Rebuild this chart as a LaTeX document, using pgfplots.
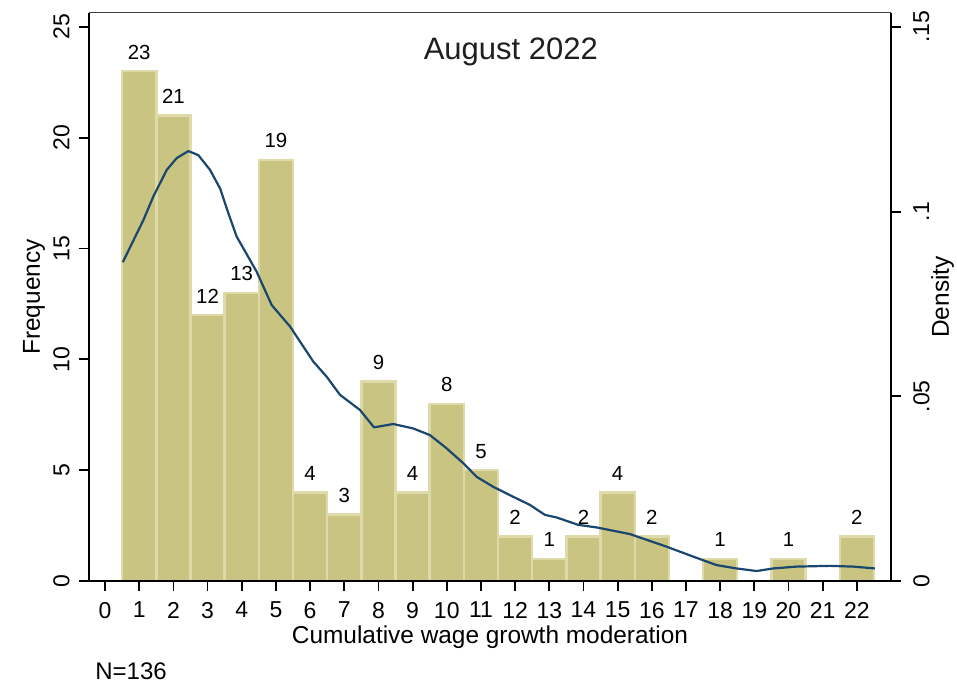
\documentclass[border=0pt]{standalone}
\usepackage{pgfplots}
\pgfplotsset{compat=1.18}
\usepackage{fontspec}
\setmainfont{Liberation Sans}

\definecolor{barfill}{RGB}{202,196,130}
\definecolor{baredge}{RGB}{222,218,170}
\definecolor{kdens}{RGB}{26,71,111}

% histogram counts (bin width 1, centred on integers)
\pgfplotstableread{
x  n
1  23
2  21
3  12
4  13
5  19
6  4
7  3
8  9
9  4
10 8
11 5
12 2
13 1
14 2
15 4
16 2
18 1
20 1
22 2
}\histdata

% kernel density estimate
\pgfplotstableread{
x      d
0.518  0.0863
1.121  0.0977
1.413  0.1041
1.805  0.1113
2.098  0.1145
2.437  0.1164
2.730  0.1153
3.072  0.1113
3.365  0.1063
3.607  0.0996
3.853  0.0932
4.046  0.0901
4.438  0.0837
4.877  0.0747
5.413  0.0689
5.901  0.0621
6.094  0.0594
6.486  0.0553
6.875  0.0504
7.461  0.0463
7.870  0.0416
8.435  0.0425
9.020  0.0413
9.508  0.0395
9.997  0.0359
10.483 0.0319
10.875 0.0282
11.360 0.0255
11.946 0.0228
12.434 0.0206
12.873 0.0179
13.215 0.0172
13.847 0.0152
14.386 0.0145
15.360 0.0127
16.433 0.0093
17.212 0.0066
17.897 0.0043
18.481 0.0034
19.067 0.0027
19.552 0.0034
20.237 0.0039
21.211 0.0041
21.893 0.0039
22.528 0.0034
}\densdata

\begin{document}
\begin{tikzpicture}
\pgfplotsset{
  common/.style={
    at={(0,0)}, anchor=south west,
    scale only axis, width=401pt, height=284pt,
    xmin=-0.47, xmax=23.0,
    tick align=outside, major tick length=5pt,
    every tick/.style={black, line width=0.9pt},
    /pgf/number format/assume math mode=true,
    ticklabel style={font=\fontsize{11.5}{13}\selectfont},
    label style={font=\fontsize{12.2}{14}\selectfont},
  }
}
\begin{axis}[common,
  axis on top,
  axis x line*=bottom, axis y line*=left,
  axis line style={line width=0.9pt},
  ymin=0, ymax=25.63,
  xtick={0,...,22},
  ytick={0,5,...,25},
  xticklabel style={yshift=-2pt},
  yticklabel style={rotate=90, anchor=south, inner sep=4.5pt},
  xlabel={Cumulative wage growth moderation},
  xlabel style={at={(rel axis cs:0.5,0)}, anchor=base, yshift=-31pt},
  ylabel={Frequency},
  ylabel style={at={(rel axis cs:-0.0611,0.5)}, anchor=base},
  ybar, bar width=1, bar shift=0,
  nodes near coords,
  nodes near coords style={font=\fontsize{10.2}{12}\selectfont, black, yshift=2pt},
]
\addplot[fill=barfill, draw=baredge, line width=1.2pt] table[x=x, y=n] {\histdata};
\node[anchor=base, font=\fontsize{15.5}{18}\selectfont, text=black!88]
  at (rel axis cs:0.526,0.919) {August 2022};
\end{axis}

\begin{axis}[common,
  axis y line*=right, axis x line*=top,
  x axis line style={draw=black!75, line width=0.5pt},
  y axis line style={line width=0.9pt},
  xtick=\empty,
  ymin=0, ymax=0.15378,
  ytick={0,0.05,0.1,0.15},
  yticklabels={0,.05,.1,.15},
  yticklabel style={rotate=90, anchor=north, inner sep=6pt},
  ylabel={Density},
  ylabel style={at={(rel axis cs:1.072,0.5)}, anchor=base},
]
\addplot[kdens, line width=1.1pt, line join=round, mark=none] table[x=x, y=d] {\densdata};
\end{axis}

% sample size note below the axes
\node[anchor=base west, inner sep=0pt, font=\fontsize{12}{14}\selectfont] at (3pt,-49pt) {N=136};

\pgfresetboundingbox
\path[use as bounding box] (-44.5pt,-50pt) rectangle (434pt,290.5pt);
\end{tikzpicture}
\end{document}
